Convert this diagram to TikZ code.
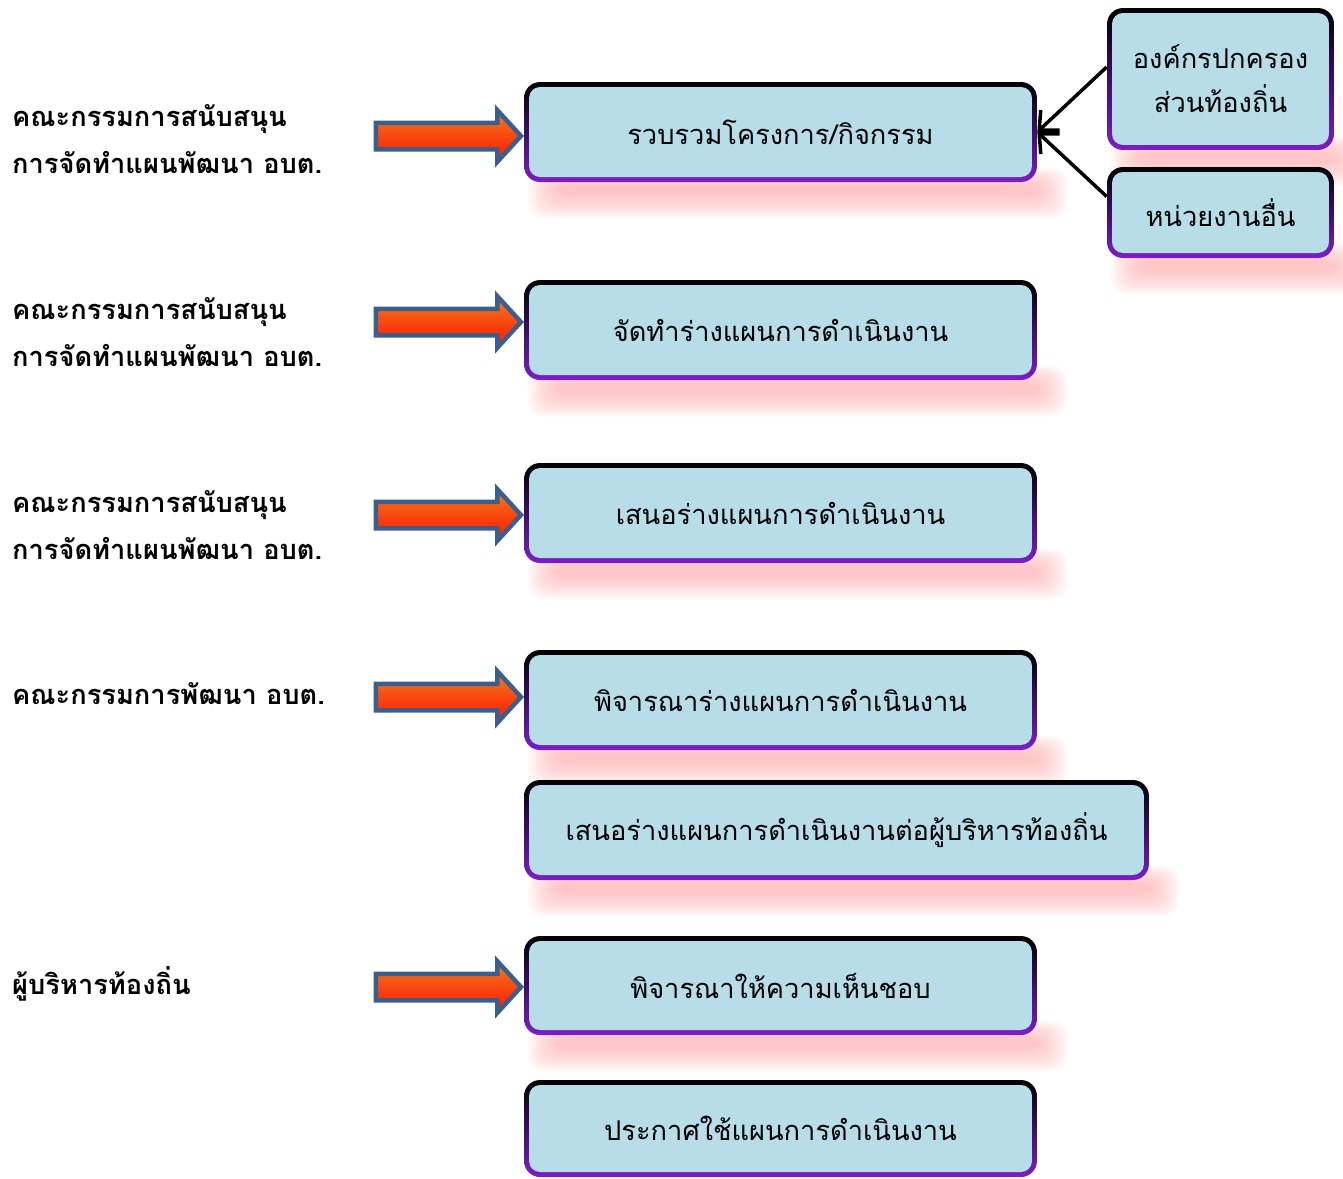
\documentclass[tikz,border=0pt]{standalone}
\usepackage{fontspec}
\setmainfont[Script=Thai]{Loma}
\usetikzlibrary{shapes.arrows, arrows.meta}
\definecolor{boxblue}{RGB}{183,221,232}
\definecolor{rimblue}{RGB}{25,25,200}
\definecolor{rimpurple}{RGB}{125,30,200}
\definecolor{arrowrim}{RGB}{58,95,142}
\definecolor{flame}{RGB}{242,125,30}
\definecolor{fire}{RGB}{255,20,0}
\definecolor{shadowpink}{RGB}{255,160,160}
\tikzset{
	planbox/.style={rounded corners=0.32cm, minimum width=10.26cm, minimum height=2cm,
		inner sep=0pt, align=center, font=\fontsize{15.5}{25}\selectfont,
		top color=black, middle color=rimblue, bottom color=rimpurple,
		path picture={\fill[boxblue, rounded corners=0.22cm]
			([shift={(0.1cm,0.1cm)}]path picture bounding box.south west) rectangle
			([shift={(-0.1cm,-0.1cm)}]path picture bounding box.north east);}},
	blockarrow/.style={shape=single arrow, draw=arrowrim, line width=0.09cm,
		top color=flame, bottom color=fire, inner xsep=0pt, inner ysep=0.22cm,
		single arrow head extend=0.25cm, single arrow tip angle=95,
		minimum height=2.9cm, anchor=tip},
	who/.style={anchor=west, align=left, font=\bfseries\fontsize{15.5}{27}\selectfont},
	feed/.style={-{Straight Barb[length=0.3cm, width=0.55cm]}, line width=0.07cm}
}
\begin{document}
\begin{tikzpicture}[x=0.02cm, y=-0.02cm]
	\useasboundingbox (0,0) rectangle (1343,1178);
	% shadows
	\foreach \a/\c/\b in {524/1037/182, 524/1037/380, 524/1037/563, 524/1037/750,
		524/1149/880, 524/1037/1035, 1107/1334/150, 1107/1334/258}{
		\foreach \k in {0,...,11}{
			\fill[shadowpink, opacity=0.07, rounded corners=0.3cm]
				(\a+4+\k*2.5, \b-14+\k*1.5) rectangle (\c+30-\k*2.5, \b+36-\k*2);
		}
	}
	% steps
	\node[planbox] (collect) at (780.5, 132) {รวบรวมโครงการ/กิจกรรม};
	\node[planbox] (draft) at (780.5, 330) {จัดทำร่างแผนการดำเนินงาน};
	\node[planbox] (propose) at (780.5, 513) {เสนอร่างแผนการดำเนินงาน};
	\node[planbox] (review) at (780.5, 700) {พิจารณาร่างแผนการดำเนินงาน};
	\node[planbox, minimum width=12.5cm] (submit) at (836.5, 830) {เสนอร่างแผนการดำเนินงานต่อผู้บริหารท้องถิ่น};
	\node[planbox, minimum height=1.98cm] (approve) at (780.5, 985.5) {พิจารณาให้ความเห็นชอบ};
	\node[planbox, minimum height=1.94cm] (announce) at (780.5, 1128.5) {ประกาศใช้แผนการดำเนินงาน};
	% sources
	\node[planbox, minimum width=4.54cm, minimum height=2.84cm] (local) at (1220.5, 79) {องค์กรปกครอง\\ส่วนท้องถิ่น};
	\node[planbox, minimum width=4.54cm, minimum height=1.82cm] (other) at (1220.5, 212.5) {หน่วยงานอื่น};
	\draw[feed] (local.174) -- (collect.east);
	\draw[feed] (other.172) -- (collect.east);
	% committees
	\node[who] (who1) at (6, 139) {คณะกรรมการสนับสนุน\\การจัดทำแผนพัฒนา อบต.};
	\node[who] (who2) at (6, 332) {คณะกรรมการสนับสนุน\\การจัดทำแผนพัฒนา อบต.};
	\node[who] (who3) at (6, 525) {คณะกรรมการสนับสนุน\\การจัดทำแผนพัฒนา อบต.};
	\node[who] (who4) at (6, 694) {คณะกรรมการพัฒนา อบต.};
	\node[who] (who5) at (6, 984) {ผู้บริหารท้องถิ่น};
	\foreach \y [count=\i] in {136, 322, 515, 697, 987}{
		\node[blockarrow] (arrow\i) at (524, \y) {};
	}
\end{tikzpicture}
\end{document}
